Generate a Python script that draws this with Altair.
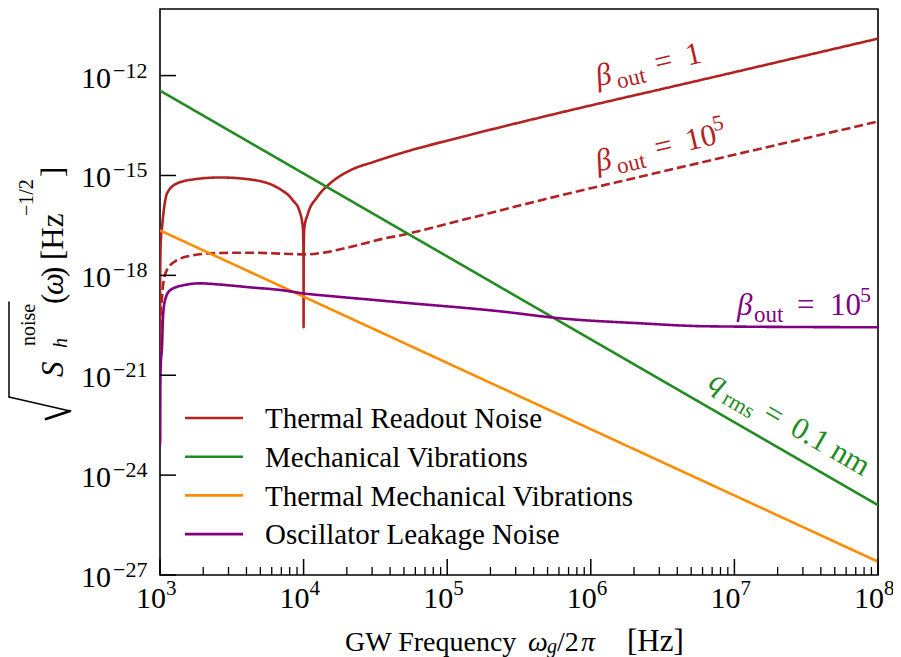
import altair as alt
import pandas as pd

FONT = "Liberation Serif"
W, H = 718, 566

# ---------------- data (log10 values) ----------------
series_names = ["Thermal Readout Noise", "Mechanical Vibrations",
                "Thermal Mechanical Vibrations", "Oscillator Leakage Noise"]
series_colors = ["#b22222", "#228b22", "#ff8c00", "#800080"]

readout_b1_logf = [3.0000004, 3.0013, 3.0052, 3.0139, 3.0487, 3.118, 3.230, 3.418,
                   3.627, 3.815, 3.926, 3.970, 3.9955, 3.9993, 4.0, 4.0007, 4.0045,
                   4.0306, 4.093, 4.184, 4.323, 4.497, 4.671, 5.159, 5.646, 6.809, 8.0]
readout_b1_logS = [-23.0, -18.0, -17.0, -16.56, -15.54, -15.24, -15.12, -15.06,
                   -15.12, -15.36, -15.75, -16.05, -16.6, -17.4, -19.56, -17.4, -16.6,
                   -16.14, -15.66, -15.24, -14.85, -14.58, -14.34, -13.78, -13.26,
                   -12.09, -10.89]

readout_b5_logf = [3.0000004, 3.004, 3.0139, 3.023, 3.0467, 3.116, 3.230, 3.395,
                   3.627, 3.857, 4.0216, 4.135, 4.323, 4.553, 4.671, 5.159, 5.646,
                   6.412, 8.0]
readout_b5_logS = [-20.0, -19.3, -18.66, -18.24, -17.85, -17.55, -17.40, -17.33,
                   -17.32, -17.35, -17.37, -17.32, -17.15, -16.90, -16.80, -16.28,
                   -15.75, -14.97, -13.38]

mech_logf = [3.0, 4.0, 5.0, 6.0, 7.0, 8.0]
mech_logS = [-12.45, -14.94, -17.43, -19.92, -22.41, -24.9]

thermech_logf = [3.0, 4.0, 5.0, 6.0, 7.0, 8.0]
thermech_logS = [-16.65, -18.64, -20.63, -22.62, -24.61, -26.6]

leak_logf = [3.0000004, 3.0013, 3.0052, 3.0139, 3.0209, 3.0348, 3.0696, 3.160,
             3.2786, 3.397, 3.627, 3.857, 3.996, 4.205, 4.4415, 4.671, 5.368,
             5.786, 6.343, 6.809, 8.0]
leak_logS = [-23.1, -21.3, -20.7, -20.16, -19.26, -18.75, -18.45, -18.30,
             -18.24, -18.27, -18.36, -18.45, -18.54, -18.63, -18.72, -18.81, -19.08,
             -19.29, -19.44, -19.53, -19.56]

curves = [
    ("readout_b1", series_names[0], "solid", readout_b1_logf, readout_b1_logS),
    ("readout_b5", series_names[0], "dashed", readout_b5_logf, readout_b5_logS),
    ("mech", series_names[1], "solid", mech_logf, mech_logS),
    ("thermech", series_names[2], "solid", thermech_logf, thermech_logS),
    ("leak", series_names[3], "solid", leak_logf, leak_logS),
]

x_major = [1e3, 1e4, 1e5, 1e6, 1e7, 1e8]
x_major_exp = ["3", "4", "5", "6", "7", "8"]
x_minor = [m * 10 ** e for e in range(3, 8) for m in range(2, 10)]
y_major = [1e-27, 1e-24, 1e-21, 1e-18, 1e-15, 1e-12]
y_major_exp = ["\u221227", "\u221224", "\u221221", "\u221218", "\u221215", "\u221212"]

# annotation anchors (log10 f, log10 S) at the start of each label's baseline
annot_logf = [6.050, 6.050, 7.018, 6.809]
annot_logS = [-12.32, -14.88, -19.2, -21.34]
annot_color = [series_colors[0], series_colors[0], series_colors[3], series_colors[1]]
annot_angle = [347, 347, 0, 30]
# (text, offset along baseline, offset across, size, style)
annot_parts = [
    [("\u03b2", 0, 0, 31, "italic"), ("out", 19.5, 7, 23, "normal"),
     ("=", 60.5, 0, 31, "normal"), ("1", 92.4, 0, 31, "normal")],
    [("\u03b2", 0, 0, 31, "italic"), ("out", 19.5, 7, 23, "normal"),
     ("=", 60.5, 0, 31, "normal"), ("10", 92.4, 0, 31, "normal"),
     ("5", 122.2, -13, 22, "normal")],
    [("\u03b2", 0, 0, 31, "italic"), ("out", 17, 7, 23, "normal"),
     ("=", 60, 0, 31, "normal"), ("10", 93, 0, 31, "normal"),
     ("5", 123, -13, 22, "normal")],
    [("q", 0, 0, 31, "italic"), ("rms", 20, 7, 22, "normal"),
     ("=", 63, 0, 31, "normal"), ("0.1 nm", 94, 0, 31, "normal")],
]

# ---------------- build ----------------
rows = []
for cid, name, dash, lf, ls in curves:
    for a, b in zip(lf, ls):
        rows.append({"curve": cid, "series": name, "dash": dash,
                     "f": 10 ** a, "S": 10 ** b})
df = pd.DataFrame(rows)

x_scale = alt.Scale(type="log", domain=[1e3, 1e8])
y_scale = alt.Scale(type="log", domain=[1e-27, 1e-10])
X = lambda: alt.X("f:Q", scale=x_scale, axis=None)
Y = lambda: alt.Y("S:Q", scale=y_scale, axis=None)

layers = []

lines = alt.Chart(df).mark_line(strokeWidth=2.6, clip=True, interpolate="monotone").encode(
    x=X(), y=Y(),
    color=alt.Color("series:N", scale=alt.Scale(domain=series_names, range=series_colors),
                    legend=None),
    strokeDash=alt.StrokeDash("dash:N", scale=alt.Scale(domain=["solid", "dashed"],
                                                        range=[[1, 0], [9, 4]]),
                              legend=None),
    detail="curve:N",
)
layers.append(lines)

# ticks (pointing inward)
layers.append(alt.Chart(pd.DataFrame({"f": x_major})).mark_rule(
    color="black", strokeWidth=1.5).encode(x=X(), y=alt.value(H), y2=alt.value(H - 16)))
layers.append(alt.Chart(pd.DataFrame({"f": x_minor})).mark_rule(
    color="black", strokeWidth=1.3).encode(x=X(), y=alt.value(H), y2=alt.value(H - 8)))
layers.append(alt.Chart(pd.DataFrame({"S": y_major})).mark_rule(
    color="black", strokeWidth=1.5).encode(y=Y(), x=alt.value(0), x2=alt.value(16)))

# tick labels
xl = pd.DataFrame({"f": x_major, "e": x_major_exp})
layers.append(alt.Chart(xl).mark_text(font=FONT, fontSize=30, align="right",
                                      baseline="alphabetic", dx=6).encode(
    x=X(), y=alt.value(599), text=alt.value("10")))
layers.append(alt.Chart(xl).mark_text(font=FONT, fontSize=21, align="left",
                                      baseline="alphabetic", dx=6).encode(
    x=X(), y=alt.value(586), text="e:N"))
yl = pd.DataFrame({"S": y_major, "e": y_major_exp})
layers.append(alt.Chart(yl).mark_text(font=FONT, fontSize=30, align="right",
                                      baseline="alphabetic", dy=12).encode(
    x=alt.value(-49), y=Y(), text=alt.value("10")))
layers.append(alt.Chart(yl).mark_text(font=FONT, fontSize=22, align="left",
                                      baseline="alphabetic", dy=2).encode(
    x=alt.value(-47), y=Y(), text="e:N"))


def ptext(text, px, py, size, style="normal", angle=0, color="black"):
    return alt.Chart(pd.DataFrame({"t": [text]})).mark_text(
        font=FONT, fontSize=size, fontStyle=style, align="left",
        baseline="alphabetic", angle=angle, color=color).encode(
        x=alt.value(px), y=alt.value(py), text="t:N")


def stroke(x1, y1, x2, y2, width):
    # page-pixel segment used to draw the radical sign of the y title
    return alt.Chart(pd.DataFrame({"t": [0]})).mark_rule(
        color="black", strokeWidth=width, strokeCap="round").encode(
        x=alt.value(x1 - 160), y=alt.value(y1 - 9),
        x2=alt.value(x2 - 160), y2=alt.value(y2 - 9))


# annotations
for lf, ls, col, ang, parts in zip(annot_logf, annot_logS, annot_color, annot_angle, annot_parts):
    for t, along, across, size, style in parts:
        d = pd.DataFrame({"f": [10 ** lf], "S": [10 ** ls], "t": [t]})
        layers.append(alt.Chart(d).mark_text(
            font=FONT, fontSize=size, fontStyle=style, align="left",
            baseline="alphabetic", angle=ang, dx=along, dy=across, color=col).encode(
            x=X(), y=Y(), text="t:N"))

# legend
for i, (name, col) in enumerate(zip(series_names, series_colors)):
    yy = 409 + i * 38.7
    layers.append(alt.Chart(pd.DataFrame({"t": [name]})).mark_rule(
        color=col, strokeWidth=2.6).encode(x=alt.value(25), x2=alt.value(83), y=alt.value(yy)))
    layers.append(ptext(name, 105, yy + 10.3, 29))

# x axis title
for t, px, dy, size, style in [("GW Frequency", 345, 0, 28, "normal"),
                               ("\u03c9", 528, 0, 28, "italic"),
                               ("g", 547, 2, 20, "italic"),
                               ("/2", 557, 0, 28, "normal"),
                               ("\u03c0", 581, 0, 28, "italic"),
                               ("[Hz]", 627, 0, 31, "normal")]:
    layers.append(ptext(t, px - 160, 642 + dy, size, style))

# y axis title (rotated): along = distance up the page from y=420, up = shift left of baseline x=63
for t, along, up, size, style in [("S", 43, 0, 31, "italic"),
                                  ("h", 72, -4, 20, "italic"),
                                  ("noise", 74, 28, 20, "normal"),
                                  ("(", 116, 0, 31, "normal"),
                                  ("\u03c9", 125, 0, 31, "italic"),
                                  (")", 143, 0, 31, "normal"),
                                  ("[Hz", 160, 0, 31, "normal"),
                                  ("\u22121/2", 204, 30, 20, "normal"),
                                  ("]", 243, 0, 31, "normal")]:
    layers.append(ptext(t, 63 - up - 160, 420 - along - 9, size, style, angle=270))
# radical sign: short stroke, long stroke, vinculum
layers.append(stroke(46, 419, 70, 411, 2.6))
layers.append(stroke(70, 411, 9, 397, 1.4))
layers.append(stroke(9, 397, 9, 302, 1.5))

chart = alt.layer(*layers).properties(
    width=W, height=H,
    padding={"left": 152, "top": 1, "right": 15, "bottom": 82},
    autosize=alt.AutoSizeParams(type="none"),
    background="white",
).configure_view(stroke="black", strokeWidth=1.6)

chart.save("out.html", embed_options={"renderer": "svg", "actions": False})
